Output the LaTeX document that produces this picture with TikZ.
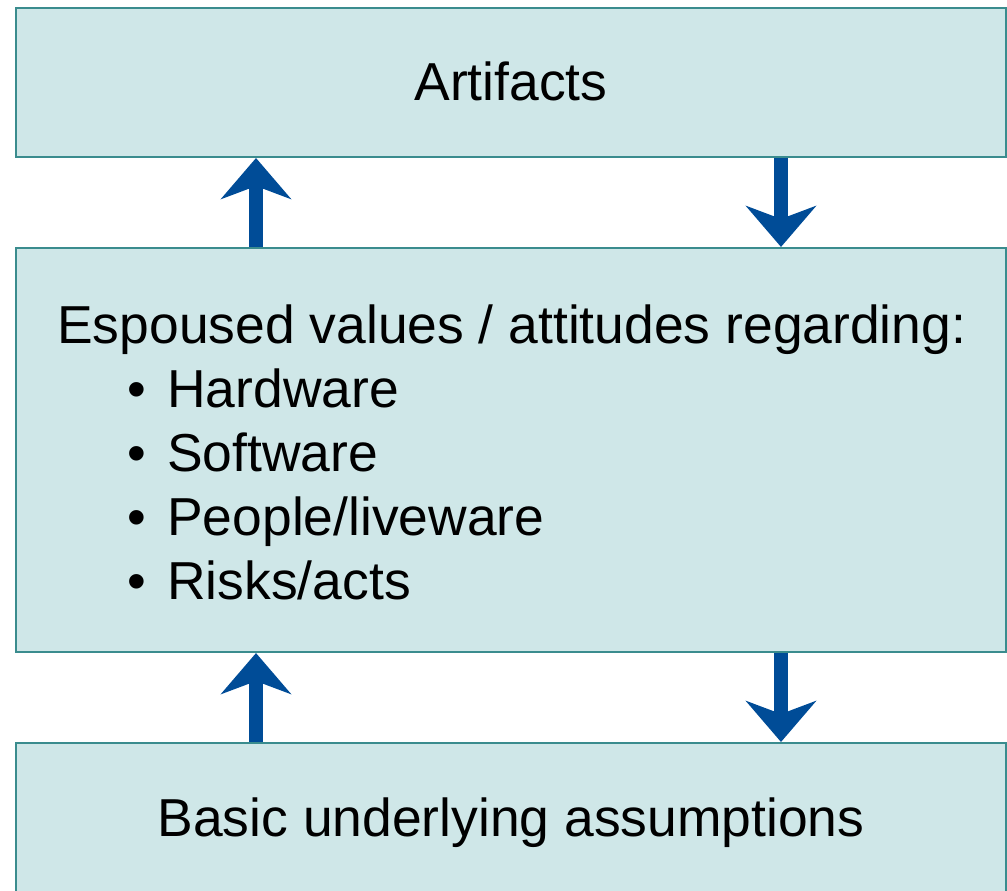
\documentclass[tikz,border=0pt]{standalone}
\usepackage{fontspec}
\setmainfont{Liberation Sans}
\usetikzlibrary{arrows.meta, positioning}
\definecolor{boxfill}{HTML}{CFE7E8}
\definecolor{boxline}{HTML}{3A8C8E}
\definecolor{flowblue}{HTML}{004C97}
\tikzset{
    layer/.style={
        draw=boxline, fill=boxfill, line width=0.05cm,
        minimum width=24.75cm, inner sep=0pt
    },
    label text/.style={
        inner sep=0pt, font=\fontsize{38pt}{45.5pt}\selectfont
    },
    flow/.style={
        draw=flowblue, line width=0.35cm,
        -{Stealth[length=1.025cm, width=1.75cm, inset=0.325cm, flowblue]}
    }
}
\begin{document}
\begin{tikzpicture}[x=0.025cm, y=-0.025cm]
    \clip (0,0) rectangle (1007,890);
    \node[layer, minimum height=3.725cm] (artifacts) at (511,82.5) {};
    \node[layer, minimum height=10.1cm] (espoused) at (511,450) {};
    \node[layer, minimum height=3.85cm] (basic) at (511,820) {};
    % texts
    \node[label text, anchor=base] (arttext) at (511,100) {Artifacts};
    \node[label text, anchor=base] (basictext) at (511,836) {Basic underlying assumptions};
    \node[label text, align=left, anchor=west] (esptext) at (57,452)
        {Espoused values / attitudes regarding:\\
        \hspace*{1.75cm}\makebox[1.0cm][l]{\textbullet}Hardware\\
        \hspace*{1.75cm}\makebox[1.0cm][l]{\textbullet}Software\\
        \hspace*{1.75cm}\makebox[1.0cm][l]{\textbullet}People/liveware\\
        \hspace*{1.75cm}\makebox[1.0cm][l]{\textbullet}Risks/acts};
    % arrows
    \coordinate (upx) at (256,0);
    \coordinate (downx) at (781,0);
    \draw[flow] (espoused.north -| upx) -- (artifacts.south -| upx);
    \draw[flow] (artifacts.south -| downx) -- (espoused.north -| downx);
    \draw[flow] (basic.north -| upx) -- (espoused.south -| upx);
    \draw[flow] (espoused.south -| downx) -- (basic.north -| downx);
\end{tikzpicture}
\end{document}
